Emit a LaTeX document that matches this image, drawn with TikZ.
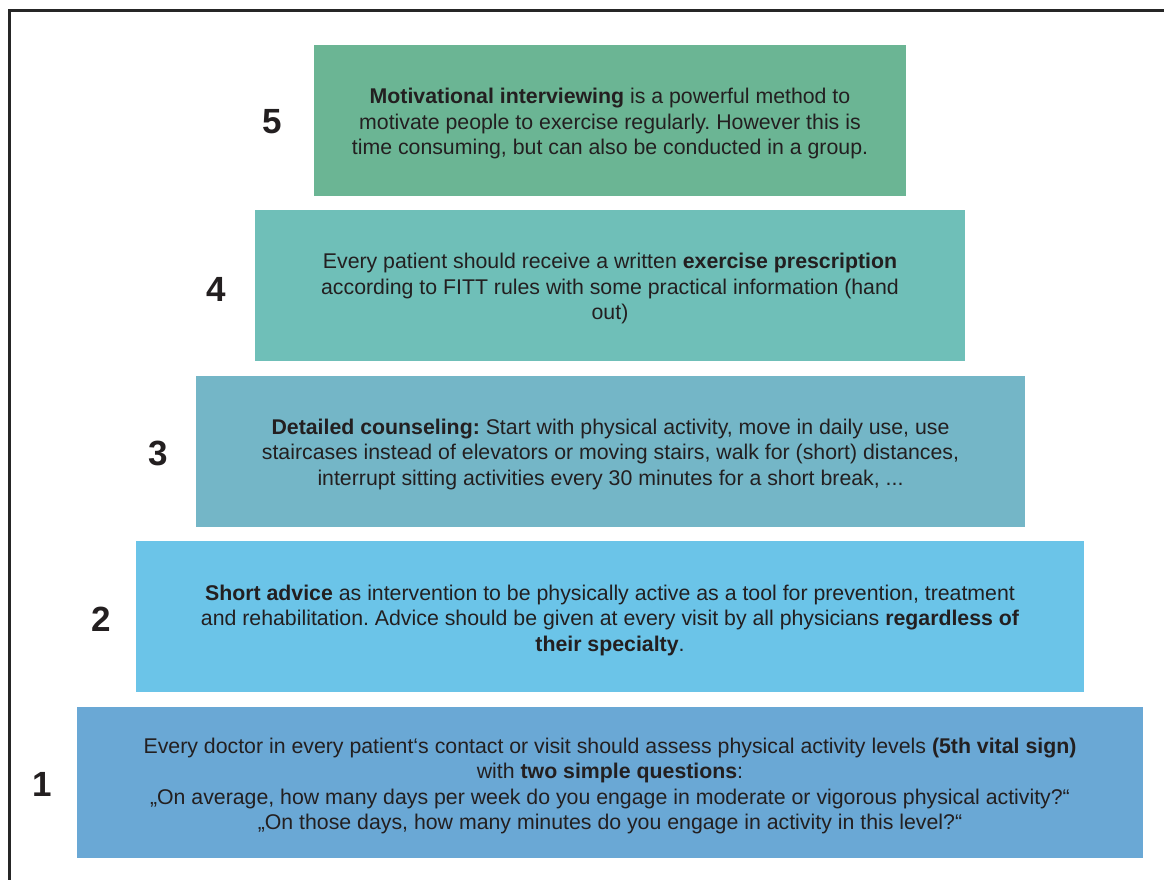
\documentclass[tikz,border=0pt]{standalone}
\usepackage{fontspec}
\setmainfont{Liberation Sans}
\frenchspacing
\definecolor{framegray}{HTML}{262626}
\definecolor{inkgray}{HTML}{231F20}
\definecolor{levelfive}{HTML}{6BB594}
\definecolor{levelfour}{HTML}{6FBFB8}
\definecolor{levelthree}{HTML}{74B6C7}
\definecolor{leveltwo}{HTML}{6BC4E8}
\definecolor{levelone}{HTML}{6AA8D5}
\tikzset{
  tier/.style={draw=none, inner sep=0pt, minimum height=151pt},
  tiertext/.style={inner sep=0pt, align=center, text=inkgray,
    font=\fontsize{21.3}{25.5}\selectfont},
  tiernum/.style={inner sep=0pt, text=inkgray, font=\fontsize{35}{35}\selectfont\bfseries}
}
\begin{document}
\begin{tikzpicture}[x=1pt, y=-1pt]
  \useasboundingbox (0,0) rectangle (1164,879);
  \fill[white] (0,0) rectangle (1164,879);
  % open frame: left and top edges only
  \draw[framegray, line width=3pt] (9.5,880) -- (9.5,10.5) -- (1165,10.5);

  % pyramid tiers, top to bottom
  \node[tier, fill=levelfive,  minimum width=592pt]  (t5) at (610,120.5) {};
  \node[tier, fill=levelfour,  minimum width=710pt]  (t4) at (610,285.5) {};
  \node[tier, fill=levelthree, minimum width=829pt]  (t3) at (610.5,451.5) {};
  \node[tier, fill=leveltwo,   minimum width=948pt]  (t2) at (610,616.5) {};
  \node[tier, fill=levelone,   minimum width=1066pt] (t1) at (610,782.5) {};

  % tier texts, set slightly below each tier's centre
  \node[tiertext] (x5) at ([yshift=-3pt]t5.center)
    {\textbf{Motivational interviewing} is a powerful method to\\
     motivate people to exercise regularly. However this is\\
     time consuming, but can also be conducted in a group.};
  \node[tiertext] (x4) at ([yshift=-3pt]t4.center)
    {Every patient should receive a written \textbf{exercise prescription}\\
     according to FITT rules with some practical information (hand\\
     out)};
  \node[tiertext] (x3) at ([yshift=-2.5pt]t3.center)
    {\textbf{Detailed counseling:} Start with physical activity, move in daily use, use\\
     staircases instead of elevators or moving stairs, walk for (short) distances,\\
     interrupt sitting activities every 30 minutes for a short break, ...};
  \node[tiertext] (x2) at ([yshift=-3.5pt]t2.center)
    {\textbf{Short advice} as intervention to be physically active as a tool for prevention, treatment\\
     and rehabilitation. Advice should be given at every visit by all physicians \textbf{regardless of}\\
     \textbf{their specialty}.};
  \node[tiertext] (x1) at ([yshift=-3.5pt]t1.center)
    {Every doctor in every patient‘s contact or visit should assess physical activity levels \textbf{(5th vital sign)}\\
     with \textbf{two simple questions}:\\
     „On average, how many days per week do you engage in moderate or vigorous physical activity?“\\
     „On those days, how many minutes do you engage in activity in this level?“};

  % level numbers
  \node[tiernum] (n5) at (272,121.5) {5};
  \node[tiernum] (n4) at (216,289.5) {4};
  \node[tiernum] (n3) at (158,453.5) {3};
  \node[tiernum] (n2) at (101,619.5) {2};
  \node[tiernum] (n1) at (42,784.5) {1};
\end{tikzpicture}
\end{document}
